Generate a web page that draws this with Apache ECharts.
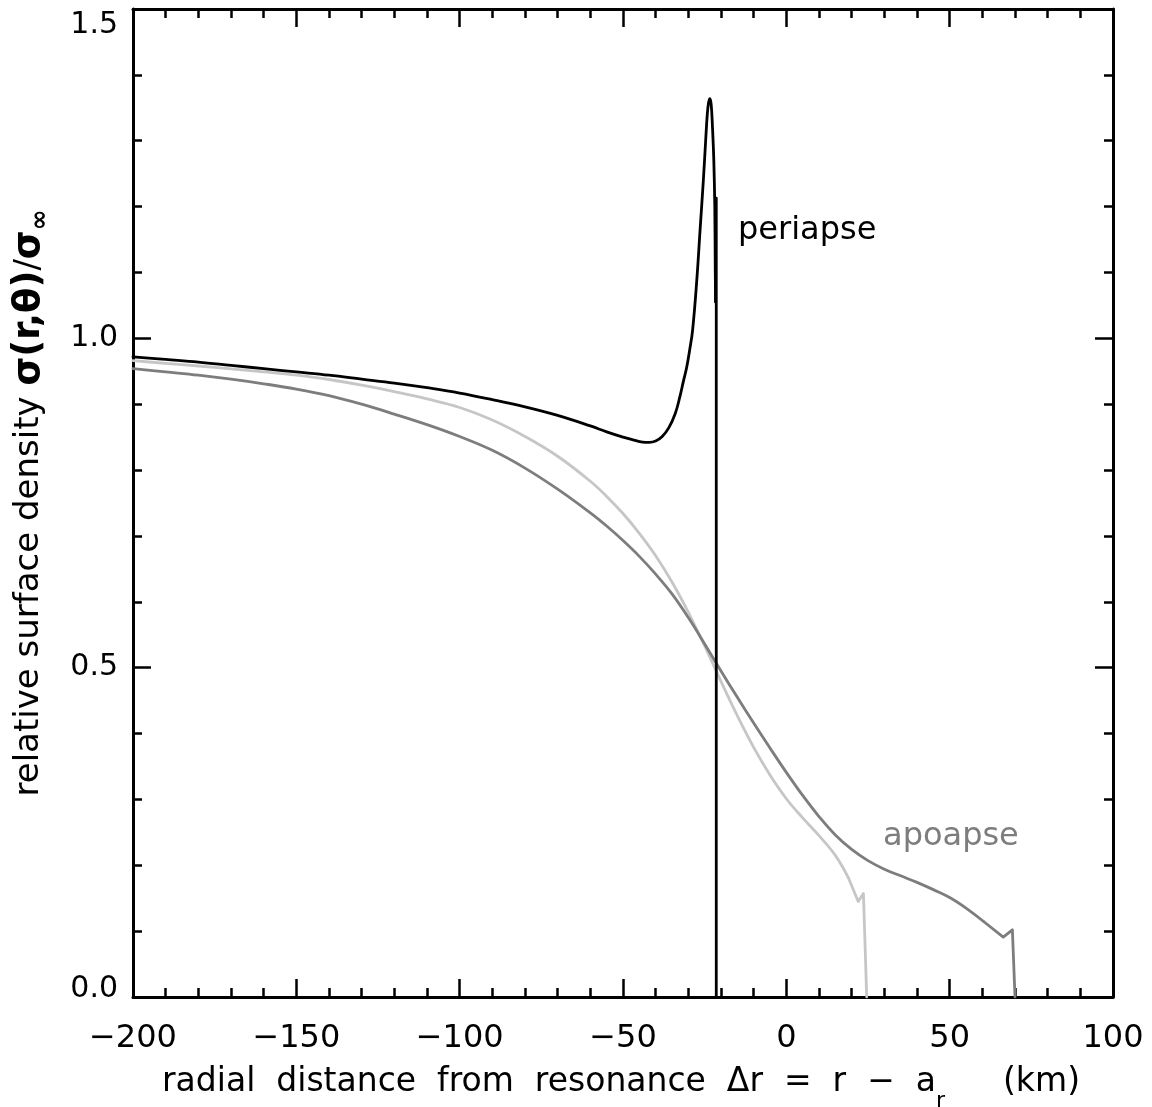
<!DOCTYPE html>
<html><head><meta charset="utf-8">
<script src="https://cdn.jsdelivr.net/npm/echarts@6/dist/echarts.min.js"></script>
<style>html,body{margin:0;padding:0;background:#fff}#c{width:1152px;height:1107px}</style>
</head><body><div id="c"></div>
<script>
// ---- data ----
const xTickValues = [-200, -150, -100, -50, 0, 50, 100];
const yTickLabels = ['0.0', '0.5', '1.0', '1.5'];

// periapse (black): smooth body, then sharp tail
const periBodyX = [-200,-190,-180,-170,-160,-150,-140,-130,-120,-110,-100,-90,-80,-70,-60,-55,-50,-47,-44,-42,-40,-38,-36,-34,-32.6,-31.5,-30.5,-29.6,-28.7,-27.4,-26.4,-25.4,-24.7,-24.2,-23.8,-23.4,-23.0,-22.6,-22.2,-21.9,-21.75,-21.65];
const periBodyY = [0.972,0.968,0.964,0.959,0.954,0.949,0.944,0.938,0.932,0.925,0.917,0.907,0.896,0.883,0.867,0.858,0.850,0.846,0.8425,0.842,0.844,0.851,0.864,0.886,0.911,0.935,0.956,0.982,1.012,1.089,1.165,1.240,1.300,1.340,1.358,1.364,1.355,1.320,1.270,1.200,1.100,1.055];
const periTailX = [-21.65,-21.45,-21.45];
const periTailY = [1.055,1.213,0];

// light grey curve
const lightBodyX = [-200,-190,-180,-170,-160,-150,-140,-130,-120,-110,-100,-90,-80,-70,-60,-55,-50,-45,-40,-35,-30,-25,-20,-15,-10,-5,0,5,10,15,19];
const lightBodyY = [0.966,0.962,0.958,0.9535,0.949,0.944,0.9375,0.929,0.919,0.908,0.895,0.876,0.851,0.821,0.783,0.760,0.734,0.704,0.670,0.630,0.584,0.533,0.479,0.427,0.379,0.337,0.301,0.272,0.245,0.215,0.181];
const lightTailX = [19,22,23.6,24.6];
const lightTailY = [0.181,0.145,0.157,0];

// apoapse (dark grey)
const apoBodyX = [-200,-190,-180,-170,-160,-150,-140,-130,-120,-110,-100,-90,-80,-70,-60,-55,-50,-45,-40,-35,-30,-25,-20,-15,-10,-5,0,5,10,15,20,25,30,35,40,45,50,55,60.3];
const apoBodyY = [0.954,0.949,0.944,0.938,0.931,0.923,0.913,0.900,0.885,0.869,0.851,0.830,0.803,0.771,0.735,0.715,0.693,0.669,0.642,0.612,0.576,0.536,0.495,0.455,0.416,0.378,0.341,0.306,0.274,0.246,0.224,0.207,0.194,0.184,0.174,0.163,0.151,0.135,0.115];
const apoTailX = [60.3,66.4,69.2,70];
const apoTailY = [0.115,0.091,0.102,0];

const periLabelPos = [-14.8, 1.163];
const apoLabelPos = [29.6, 0.243];

// ---- chart ----
const FONT = 'DejaVu Sans';
const zip = (xs, ys) => xs.map((x, i) => [x, ys[i]]);
const chart = echarts.init(document.getElementById('c'), null, {renderer: 'canvas'});

const fmtX = v => (v < 0 ? '\u2212' + Math.abs(v) : String(v));
function xAxisDef(pos, showLabel) {
  return {
    type: 'value', position: pos, min: -200, max: 100, interval: 50,
    axisLine: {show: true, onZero: false, lineStyle: {color: '#000', width: 3}},
    axisTick: {show: true, inside: true, length: 18, lineStyle: {color: '#000', width: 2.5}},
    minorTick: {show: true, splitNumber: 5, length: 9, lineStyle: {color: '#000', width: 2.5}},
    splitLine: {show: false}, minorSplitLine: {show: false},
    axisLabel: {show: showLabel, margin: 26, fontFamily: FONT, fontSize: 32, color: '#000',
      formatter: v => xTickValues.includes(v) ? fmtX(v) : ''}
  };
}
function yAxisDef(pos, showLabel) {
  return {
    type: 'value', position: pos, min: 0, max: 1.5, interval: 0.5,
    axisLine: {show: true, onZero: false, lineStyle: {color: '#000', width: 3}},
    axisTick: {show: true, inside: true, length: 18, lineStyle: {color: '#000', width: 2.5}},
    minorTick: {show: true, splitNumber: 5, length: 9, lineStyle: {color: '#000', width: 2.5}},
    splitLine: {show: false}, minorSplitLine: {show: false},
    axisLabel: {show: showLabel, margin: 15, fontFamily: FONT, fontSize: 30, color: '#000',
      formatter: v => {
        const i = Math.round(v / 0.5);
        const t = yTickLabels[i];
        if (i === 3) return '{t|' + t + '}';
        if (i === 0) return '{b|' + t + '}';
        return t;
      },
      rich: {
        t: {fontFamily: FONT, fontSize: 30, color: '#000', padding: [32, 0, 0, 0]},
        b: {fontFamily: FONT, fontSize: 30, color: '#000', padding: [0, 0, 16, 0]}
      }
    }
  };
}

const lineSeries = (name, data, color, z, smooth) => ({
  name, type: 'line', data, showSymbol: false, symbol: 'none', smooth, z,
  xAxisIndex: 0, yAxisIndex: 0,
  lineStyle: {color, width: 2.8, cap: 'round', join: 'round'}, emphasis: {disabled: true}
});

const LIGHT = '#c6c6c6', DARK = '#7d7d7d', BLACK = '#000000';
chart.setOption({
  animation: false,
  backgroundColor: '#fff',
  grid: {left: 133, right: 39, top: 9, bottom: 110, containLabel: false, outerBoundsMode: 'none'},
  xAxis: [xAxisDef('bottom', true), xAxisDef('top', false)],
  yAxis: [yAxisDef('left', true), yAxisDef('right', false)],
  series: [
    lineSeries('light', zip(lightBodyX, lightBodyY), LIGHT, 2, 0.4),
    lineSeries('light tail', zip(lightTailX, lightTailY), LIGHT, 2, false),
    lineSeries('apoapse', zip(apoBodyX, apoBodyY), DARK, 3, 0.4),
    lineSeries('apoapse tail', zip(apoTailX, apoTailY), DARK, 3, false),
    lineSeries('periapse', zip(periBodyX, periBodyY), BLACK, 4, 0.4),
    lineSeries('periapse tail', zip(periTailX, periTailY), BLACK, 4, false)
  ]
});

const pp = chart.convertToPixel({xAxisIndex: 0, yAxisIndex: 0}, periLabelPos);
const ap = chart.convertToPixel({xAxisIndex: 0, yAxisIndex: 0}, apoLabelPos);

const nStyle = fs => ({fontFamily: FONT, fontSize: fs, fill: '#000', verticalAlign: 'middle'});
chart.setOption({
  graphic: [
    {type: 'text', x: pp[0], y: pp[1], style: {text: 'periapse', fill: BLACK, font: '32px "DejaVu Sans"', align: 'left', verticalAlign: 'middle'}},
    {type: 'text', x: ap[0], y: ap[1], style: {text: 'apoapse', fill: DARK, font: '32px "DejaVu Sans"', align: 'left', verticalAlign: 'middle'}},
    {type: 'text', x: 162, y: 1082, style: {
      text: '{n|radial  distance  from  resonance  }{n|\u0394r  =  r  \u2212  a}{s|r}',
      align: 'left', verticalAlign: 'middle',
      rich: {
        n: Object.assign(nStyle(33), {lineHeight: 60}),
        s: {fontFamily: FONT, fontSize: 22, fill: '#000', lineHeight: 18, verticalAlign: 'bottom'}
      }
    }},
    {type: 'text', x: 1080, y: 1082, style: {text: '(km)', fill: '#000', font: '33px "DejaVu Sans"', align: 'right', verticalAlign: 'middle'}},
    {type: 'text', x: 29, y: 503, rotation: Math.PI / 2, style: {
      text: '{n|relative surface density }{g|\u03c3(r,\u03b8)}{n|/}{g|\u03c3}{s|\u221e}',
      align: 'center', verticalAlign: 'middle',
      rich: {
        n: Object.assign(nStyle(34), {lineHeight: 48}),
        g: Object.assign(nStyle(37), {fontWeight: 'bold', lineHeight: 48}),
        s: {fontFamily: FONT, fontSize: 25, fontWeight: 'bold', fill: '#000', lineHeight: 22, verticalAlign: 'bottom'}
      }
    }}
  ]
});
</script></body></html>
